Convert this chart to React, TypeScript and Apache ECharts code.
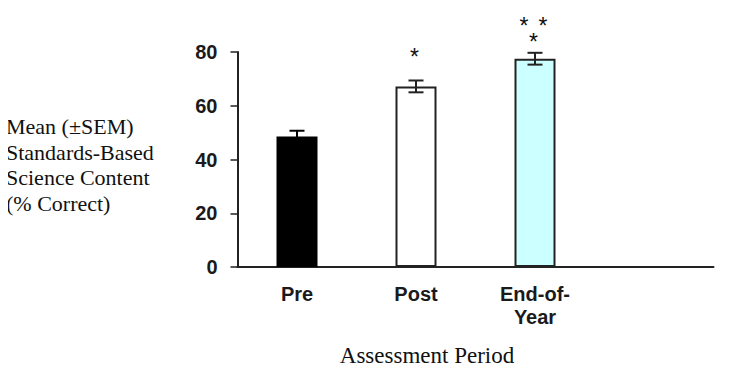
import React, { useEffect, useRef } from "react";
import * as echarts from "echarts";

const categories = ["Pre", "Post", "End-of-\nYear", ""];
const means = [48.6, 67.2, 77.5];
const sems = [2.1, 2.2, 2.2];
const stars = [[], ["*"], ["* *", "*"]];
const barColors = ["#000000", "#ffffff", "#ccffff"];
const yTicks = { min: 0, max: 80, interval: 20 };

export default function App() {
  const ref = useRef<HTMLDivElement>(null);
  useEffect(() => {
    if (!ref.current) return;
    const chart = echarts.init(ref.current, null, { renderer: "svg" });
    const sansBold = { fontFamily: "Liberation Sans, Arial, sans-serif", fontWeight: "bold" as const, color: "#1a1a1a" };
    chart.setOption({
      animation: false,
      backgroundColor: "#ffffff",
      grid: { left: 237.5, right: 18.5, top: 52, bottom: 112, containLabel: false },
      xAxis: {
        type: "category",
        data: categories,
        axisLine: { lineStyle: { color: "#222", width: 2 } },
        axisTick: { show: false },
        axisLabel: { ...sansBold, fontSize: 20, lineHeight: 23, margin: 15, interval: 0 },
      },
      yAxis: {
        type: "value",
        min: yTicks.min,
        max: yTicks.max,
        interval: yTicks.interval,
        splitLine: { show: false },
        axisLine: { show: true, lineStyle: { color: "#222", width: 2 } },
        axisTick: { show: true, inside: false, length: 7, lineStyle: { color: "#222", width: 1.5 } },
        axisLabel: { ...sansBold, fontSize: 20, margin: 20 },
      },
      series: [
        {
          type: "bar",
          barWidth: 41,
          data: means.map((v, i) => ({
            value: v,
            itemStyle: { color: barColors[i], borderColor: "#222", borderWidth: i === 0 ? 0 : 2 },
          })),
          z: 2,
        },
        {
          type: "custom",
          z: 3,
          data: means.map((m, i) => [i, m - sems[i], m + sems[i]]),
          renderItem: (params: any, api: any) => {
            const x = api.coord([api.value(0), 0])[0];
            const lo = api.coord([api.value(0), api.value(1)])[1];
            const hi = api.coord([api.value(0), api.value(2)])[1];
            const half = 7.5;
            const st = { stroke: params.dataIndex === 0 ? "#000" : "#222", lineWidth: 2 };
            const children: any[] = [
              { type: "line", shape: { x1: x, y1: lo, x2: x, y2: hi }, style: st },
              { type: "line", shape: { x1: x - half, y1: hi, x2: x + half, y2: hi }, style: st },
              { type: "line", shape: { x1: x - half, y1: lo, x2: x + half, y2: lo }, style: st },
            ];
            const rows = stars[params.dataIndex];
            const n = rows.length;
            const lowest = n > 1 ? hi - 15 : hi - 27.5;
            rows.forEach((row, k) => {
              const chars = row.split("");
              chars.forEach((c, ci) => {
                if (c === " ") return;
                children.push({
                  type: "text",
                  x: x - 1.5 + (ci - (chars.length - 1) / 2) * 9.5,
                  y: lowest - (n - 1 - k) * 16 + 4,
                  style: {
                    text: c,
                    fontSize: 23,
                    lineHeight: 15,
                    fontFamily: "Liberation Sans, Arial, sans-serif",
                    fill: "#111",
                    textAlign: "center",
                    textVerticalAlign: "middle",
                  },
                });
              });
            });
            return { type: "group", children };
          },
        },
      ],
      graphic: [
        {
          type: "text",
          left: 6,
          top: 114,
          style: {
            text: "Mean (±SEM)\nStandards-Based\nScience Content\n(% Correct)",
            fontSize: 22,
            lineHeight: 25.5,
            fontFamily: "Liberation Serif, Times New Roman, serif",
            fill: "#111",
            textAlign: "left",
          },
        },
        {
          type: "text",
          x: 427,
          y: 355,
          style: {
            text: "Assessment Period",
            fontSize: 23,
            fontFamily: "Liberation Serif, Times New Roman, serif",
            fill: "#111",
            textAlign: "center",
            textVerticalAlign: "middle",
          },
        },
      ],
    });
    return () => chart.dispose();
  }, []);
  return <div ref={ref} style={{ width: 732, height: 379, margin: -8 }} />;
}
